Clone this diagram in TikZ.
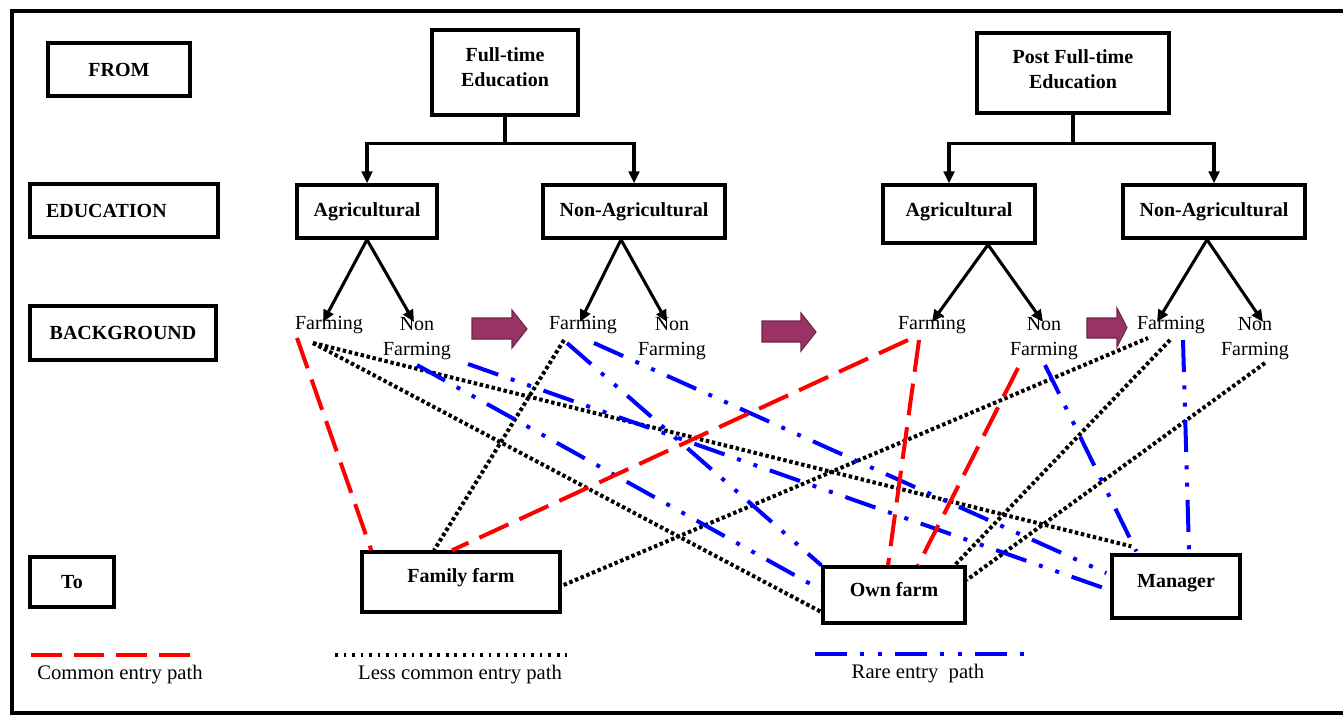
\documentclass[tikz,border=0pt]{standalone}
\usepackage{fontspec}
\setmainfont{Liberation Serif}
\usetikzlibrary{arrows.meta,calc}
\definecolor{plum}{HTML}{993366}
\definecolor{plumdark}{HTML}{6E2449}
\definecolor{lred}{HTML}{FF0000}
\definecolor{lblue}{HTML}{0000FF}
\begin{document}
\begin{tikzpicture}[x=0.75pt,y=-0.75pt,
  box/.style={draw, line width=2.5pt, inner sep=2pt, align=center, font=\bfseries\fontsize{15}{18.75}\selectfont},
  lab/.style={inner sep=0pt, align=center, font=\fontsize{15}{18.75}\selectfont},
  tree/.style={line width=2.3pt},
  treearrow/.style={tree, -{Triangle[length=9pt,width=8pt]}},
  common/.style={draw=lred, line width=3pt, dash pattern=on 24pt off 9pt},
  lesscommon/.style={draw=black, line width=3pt, dash pattern=on 2.6pt off 2pt},
  rare/.style={draw=lblue, line width=3pt, dash pattern=on 24pt off 10pt on 3pt off 10pt on 3pt off 10pt},
  fatarrow/.style={fill=plum, draw=plumdark, line width=0.8pt},
  legendtext/.style={inner sep=0pt, font=\fontsize{15.5}{18}\selectfont}
]
\useasboundingbox (0,0) rectangle (1343,715);
% frame
\draw[line width=3pt] (1350,11) -- (11.5,11) -- (11.5,712.5) -- (1350,712.5);

% row headers
\node[box, minimum width=106.5pt, minimum height=39.75pt] (from) at (119,69.5) {FROM};
\node[box, minimum width=141pt, minimum height=39.75pt] (edu) at (124,210.5) {\makebox[117pt][l]{EDUCATION}};
\node[box, minimum width=139.5pt, minimum height=40.5pt] (bg) at (123,333) {BACKGROUND};
\node[box, minimum width=63pt, minimum height=37.5pt] (tob) at (72,582) {To};

% top boxes
\node[box, minimum width=109.5pt, minimum height=63.75pt, text depth=7.5pt] (fte) at (505,72.5) {Full-time\\Education};
\node[box, minimum width=144pt, minimum height=60pt, text depth=5.25pt] (pfte) at (1073,73) {Post Full-time\\Education};

% education boxes
\node[box, minimum width=105pt, minimum height=39.75pt] (agl) at (367,211.5) {Agricultural};
\node[box, minimum width=136.5pt, minimum height=39.75pt] (nal) at (634,211.5) {Non-Agricultural};
\node[box, minimum width=114pt, minimum height=43.5pt, text height=10.2pt, text depth=6.3pt] (agr) at (959,214) {Agricultural};
\node[box, minimum width=136.5pt, minimum height=39.75pt] (nar) at (1214,211.5) {Non-Agricultural};

% destination boxes
\node[box, minimum width=148.5pt, minimum height=45pt, text height=10.2pt, text depth=9.3pt] (fam) at (461,582) {Family farm};
\node[box, minimum width=106.5pt, minimum height=42pt, text height=10.2pt, text depth=7.8pt] (own) at (894,595) {Own farm};
\node[box, minimum width=96pt, minimum height=47.25pt, text height=10.2pt, text depth=8.55pt] (man) at (1176,586.5) {Manager};

% background labels
\node[lab] (f1) at (329,325) {Farming};
\node[lab] (n1) at (417,338.5) {Non\\Farming};
\node[lab] (f2) at (583,325) {Farming};
\node[lab] (n2) at (672,338.5) {Non\\Farming};
\node[lab] (f3) at (932,325) {Farming};
\node[lab] (n3) at (1044,338.5) {Non\\Farming};
\node[lab] (f4) at (1171,325) {Farming};
\node[lab] (n4) at (1255,338.5) {Non\\Farming};

% fat arrows
\draw[fatarrow] (472,318) -- (512,318) -- (512,310) -- (527,329) -- (512,348) -- (512,339) -- (472,339) -- cycle;
\draw[fatarrow] (762,321) -- (801,321) -- (801,313) -- (816,332) -- (801,351) -- (801,342) -- (762,342) -- cycle;
\draw[fatarrow] (1087,318) -- (1117,318) -- (1117,308) -- (1127,327.5) -- (1117,347) -- (1117,338) -- (1087,338) -- cycle;

% tree connectors
\draw[tree] (fte.south) -- ++(0,27) coordinate (j1);
\draw[treearrow] (j1) -| (agl.north);
\draw[treearrow] (j1) -| (nal.north);
\draw[tree] (pfte.south) -- ++(0,29) coordinate (j2);
\draw[treearrow] (j2) -| ($(agr.north)+(-10,0)$);
\draw[treearrow] (j2) -| (nar.north);

\draw[treearrow] (agl.south) -- ($(f1.center)+(-6,-3)$);
\draw[treearrow] (agl.south) -- ($(n1.center)+(-3,-16.5)$);
\draw[treearrow] ($(nal.south)+(-13,0)$) -- ($(f2.center)+(-3,-3)$);
\draw[treearrow] ($(nal.south)+(-13,0)$) -- ($(n2.center)+(-5,-16.5)$);
\draw[treearrow] ($(agr.south)+(29,0)$) -- ($(f3.center)+(0,-3)$);
\draw[treearrow] ($(agr.south)+(29,0)$) -- ($(n3.center)+(-1,-16.5)$);
\draw[treearrow] ($(nar.south)+(-7,0)$) -- ($(f4.center)+(-14,-3)$);
\draw[treearrow] ($(nar.south)+(-7,0)$) -- ($(n4.center)+(8,-16.5)$);

% less common entry paths
\draw[lesscommon] ($(f1.center)+(-16,18)$) -- ($(man.north west)+(21,-7)$);
\draw[lesscommon] ($(f1.center)+(-16,18)$) -- ($(own.west)+(0,17)$);
\draw[lesscommon] ($(f2.center)+(-19,15)$) -- ($(fam.north)+(-27,0)$);
\draw[lesscommon] ($(fam.east)+(2,3)$) -- ($(f4.center)+(-23,13)$);
\draw[lesscommon] ($(f4.center)+(-1,15)$) -- ($(own.north east)+(-12,0)$);
\draw[lesscommon] ($(n4.center)+(10,24.5)$) -- ($(own.east)+(0,-15)$);

% rare entry paths
\draw[rare] ($(n1.center)+(0,26.5)$) -- ($(own.west)+(0,-5)$);
\draw[rare] ($(n1.center)+(51,25.5)$) -- ($(man.west)+(-1,3.5)$);
\draw[rare] ($(f2.center)+(-16,18)$) -- (own.north west);
\draw[rare] ($(f2.center)+(11,18)$) -- ($(man.west)+(-4,-13.5)$);
\draw[rare] ($(n3.center)+(1,26.5)$) -- ($(man.north west)+(26,-2)$);
\draw[rare] ($(f4.center)+(12,15)$) -- ($(man.north)+(13,-2)$);

% common entry paths
\draw[common] ($(f1.center)+(-32,13)$) -- ($(fam.north west)+(11,0)$);
\draw[common] ($(f3.center)+(-24,15)$) -- ($(fam.north)+(-9,0)$);
\draw[common] ($(f3.center)+(-13,15)$) -- ($(own.north)+(-6,0)$);
\draw[common] ($(n3.center)+(-26,29.5)$) -- ($(own.north)+(24,0)$);

% legend
\coordinate (lra) at (31,655); \coordinate (lrb) at (190,655);
\draw[common, dash pattern=on 23pt off 9pt] (lra) -- (lrb);
\node[legendtext] (lrt) at (120,675) {Common entry path};
\coordinate (lka) at (335,655); \coordinate (lkb) at (567,655);
\draw[lesscommon, dash pattern=on 2pt off 4.4pt] (lka) -- (lkb);
\node[legendtext] (lkt) at (460,675) {Less common entry path};
\coordinate (lba) at (815,654); \coordinate (lbb) at (1028,654);
\draw[rare] (lba) -- (lbb);
\node[legendtext] (lbt) at (918,674) {Rare entry\ \ path};
\end{tikzpicture}
\end{document}
